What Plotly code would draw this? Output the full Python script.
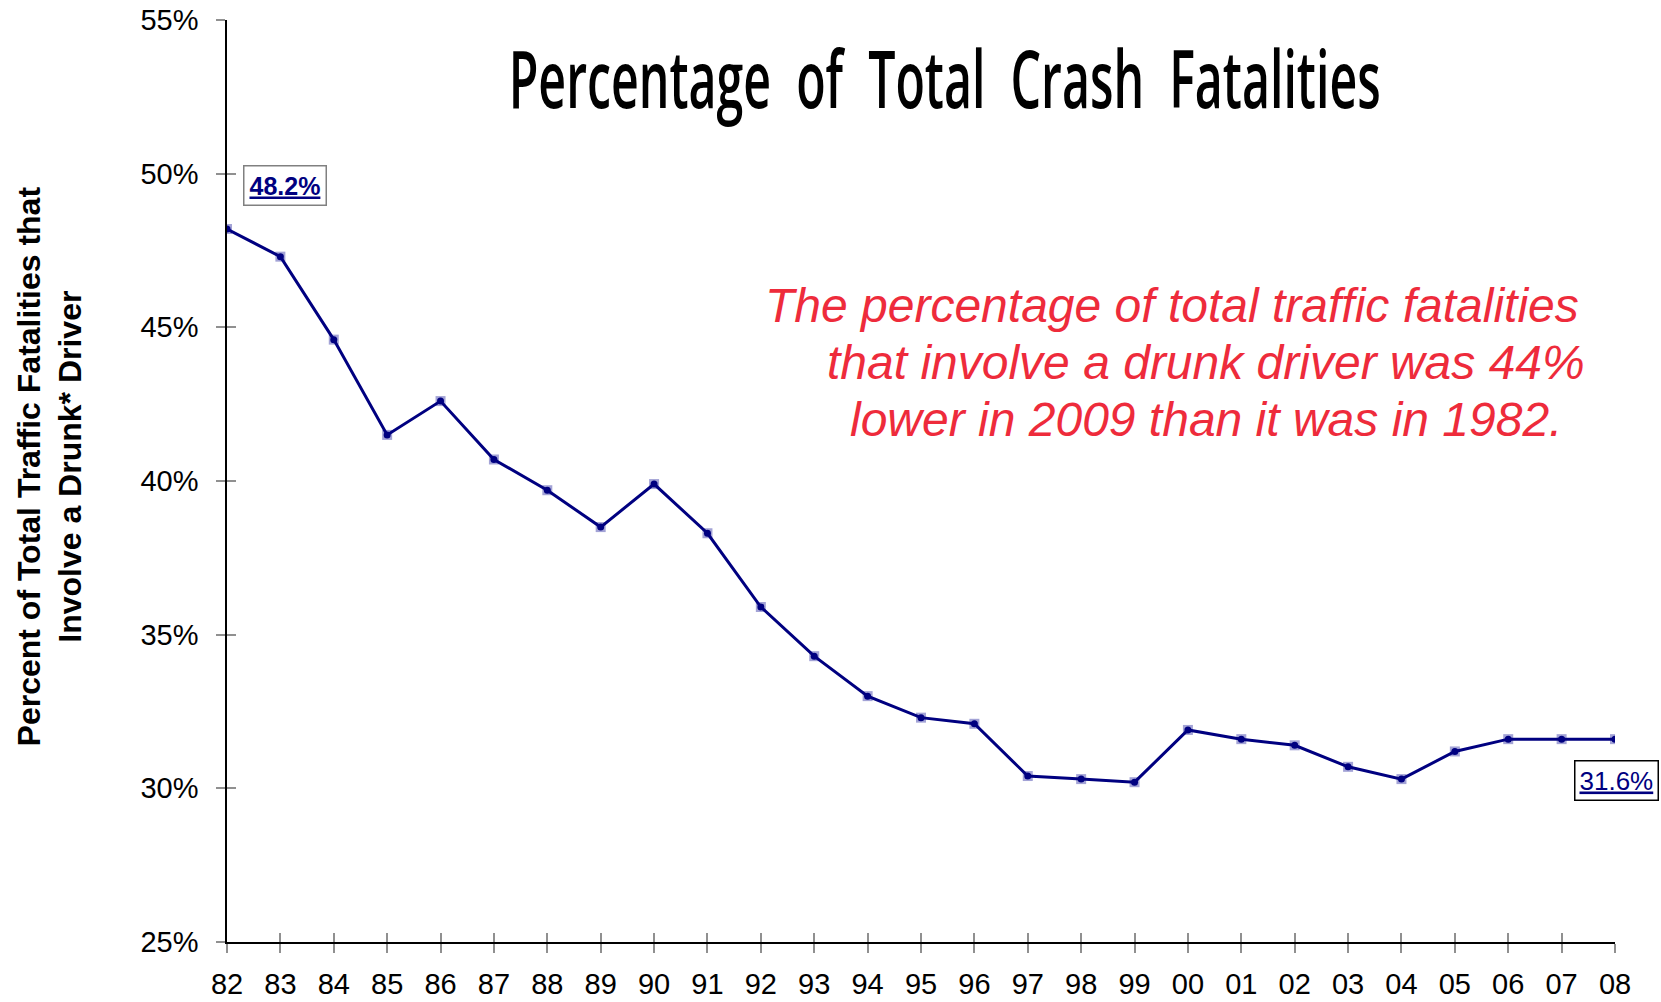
import plotly.graph_objects as go

# years (two-digit labels) and share of fatalities involving a drunk driver
anos = ["82", "83", "84", "85", "86", "87", "88", "89", "90", "91", "92", "93", "94",
        "95", "96", "97", "98", "99", "00", "01", "02", "03", "04", "05", "06", "07", "08"]
porcentaje = [48.2, 47.3, 44.6, 41.5, 42.6, 40.7, 39.7, 38.5, 39.9, 38.3, 35.9, 34.3, 33.0,
              32.3, 32.1, 30.4, 30.3, 30.2, 31.9, 31.6, 31.4, 30.7, 30.3, 31.2, 31.6, 31.6, 31.6]
ticks_y = [25, 30, 35, 40, 45, 50, 55]
ticks_y_txt = [f"{v}%" for v in ticks_y]

NAVY = "#000080"
ROJO = "#EE2B3B"
TICK = "#909090"

fig = go.Figure()

# halo cuadrado lila detrás de cada punto
fig.add_trace(go.Scatter(
    x=anos, y=porcentaje, mode="markers",
    marker=dict(symbol="square", size=10, color="#A3A3D6"),
    hoverinfo="skip", showlegend=False
))
fig.add_trace(go.Scatter(
    x=anos, y=porcentaje, mode="lines+markers",
    line=dict(color=NAVY, width=3),
    marker=dict(symbol="circle", size=7, color=NAVY),
    showlegend=False
))
# ejes superpuestos solo para las marcas que cruzan el eje
fig.add_trace(go.Scatter(x=[], y=[], xaxis="x2", yaxis="y2", showlegend=False))

nb = "\u00a0"
titulo = (nb * 2).join(["Percentage", "of", "Total", "Crash", "Fatalities"])

frase = ["The percentage of total traffic fatalities",
         "that involve a drunk driver was 44%",
         "lower in 2009 than it was in 1982."]
frase_x = [0.6808, 0.7053, 0.7053]
frase_y = [0.6908, 0.6284, 0.5666]

notas = [
    dict(text=titulo, xref="paper", yref="paper", x=0.5166, y=0.939,
         xanchor="center", yanchor="middle", showarrow=False,
         font=dict(family="Open Sans, DejaVu Sans Condensed, sans-serif",
                   size=80, weight=600, color="black")),
    dict(text="<b>Percent of Total Traffic Fatalities that<br>Involve a Drunk* Driver</b>",
         xref="paper", yref="paper", x=-0.1279, y=0.5163, textangle=-90,
         xanchor="center", yanchor="middle", showarrow=False,
         font=dict(size=32, color="black")),
    dict(text="<b><u>48.2%</u></b>", x=0, y=porcentaje[0], xref="x", yref="y",
         showarrow=False, xshift=58, yshift=43,
         font=dict(size=25, color=NAVY), bgcolor="white",
         bordercolor="#808080", borderwidth=1.5, borderpad=5),
    dict(text="<u>31.6%</u>", x=len(anos) - 1, y=porcentaje[-1], xref="x", yref="y",
         showarrow=False, xshift=1, yshift=-41,
         font=dict(size=26, color=NAVY), bgcolor="white",
         bordercolor="black", borderwidth=1.5, borderpad=4),
]
for t, xx, yy in zip(frase, frase_x, frase_y):
    notas.append(dict(text=f"<i>{t}</i>", xref="paper", yref="paper", x=xx, y=yy,
                      xanchor="center", yanchor="middle", showarrow=False,
                      font=dict(size=48, color=ROJO)))

fig.update_layout(
    width=1661, height=1002,
    paper_bgcolor="white", plot_bgcolor="white",
    margin=dict(l=227, r=46, t=20, b=60),
    font=dict(family="Arial, Liberation Sans, sans-serif", color="black"),
    xaxis=dict(
        type="category", showgrid=False, zeroline=False, automargin=False,
        showline=True, linecolor="black", linewidth=1.5,
        ticks="outside", ticklen=9, tickcolor=TICK, tickwidth=1.5,
        tickfont=dict(size=29, color="black"), ticklabelstandoff=6,
        range=[0, len(anos) - 1],
    ),
    yaxis=dict(
        range=[25, 55], tickvals=ticks_y, ticktext=ticks_y_txt, automargin=False,
        showgrid=False, zeroline=False,
        showline=True, linecolor="black", linewidth=1.5,
        ticks="outside", ticklen=9, tickcolor=TICK, tickwidth=1.5,
        tickfont=dict(size=29, color="black"), ticklabelstandoff=12,
    ),
    xaxis2=dict(overlaying="x", anchor="y2", range=[0, len(anos) - 1], dtick=1,
                showgrid=False, zeroline=False, showline=False, showticklabels=False,
                automargin=False,
                ticks="inside", ticklen=9, tickcolor=TICK, tickwidth=1.5),
    yaxis2=dict(overlaying="y", anchor="x2", side="left", range=[25, 55], tickvals=ticks_y,
                showgrid=False, zeroline=False, showline=False, showticklabels=False,
                automargin=False,
                ticks="inside", ticklen=9, tickcolor=TICK, tickwidth=1.5),
    annotations=notas,
)

# sin margen en la página; título comprimido a lo ancho como la fuente condensada original
js = """
document.body.style.margin = '0';
document.body.style.overflow = 'hidden';
var gd = document.getElementById('{plot_id}');
gd.querySelectorAll('text.annotation-text').forEach(function(t){
  if (t.textContent.indexOf('Percentage') === 0) {
    t.setAttribute('textLength', '872');
    t.setAttribute('lengthAdjust', 'spacingAndGlyphs');
  }
});
"""

fig.write_html("out.html", post_script=js, config={"displayModeBar": False})
